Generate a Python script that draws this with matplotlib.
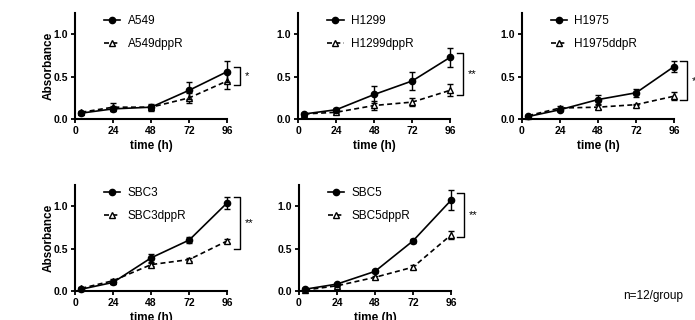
import matplotlib.pyplot as plt

plt.rcParams['font.family'] = ['Liberation Sans', 'DejaVu Sans']

# time points (h)
t = [4, 24, 48, 72, 96]

names = ['A549', 'H1299', 'H1975', 'SBC3', 'SBC5']
labels_r = ['A549dppR', 'H1299dppR', 'H1975ddpR', 'SBC3dppR', 'SBC5dppR']

a549 = [0.07, 0.12, 0.14, 0.34, 0.56]
a549_e = [0.01, 0.03, 0.03, 0.10, 0.12]
a549r = [0.08, 0.14, 0.14, 0.25, 0.45]
a549r_e = [0.01, 0.05, 0.04, 0.06, 0.09]

h1299 = [0.06, 0.11, 0.29, 0.45, 0.73]
h1299_e = [0.01, 0.02, 0.10, 0.11, 0.11]
h1299r = [0.06, 0.08, 0.16, 0.20, 0.34]
h1299r_e = [0.01, 0.01, 0.05, 0.05, 0.07]

h1975 = [0.03, 0.11, 0.23, 0.31, 0.62]
h1975_e = [0.01, 0.02, 0.05, 0.05, 0.06]
h1975r = [0.04, 0.13, 0.14, 0.17, 0.27]
h1975r_e = [0.01, 0.02, 0.02, 0.01, 0.05]

sbc3 = [0.02, 0.10, 0.39, 0.60, 1.04]
sbc3_e = [0.01, 0.02, 0.05, 0.04, 0.07]
sbc3r = [0.03, 0.12, 0.31, 0.37, 0.59]
sbc3r_e = [0.01, 0.02, 0.02, 0.02, 0.02]

sbc5 = [0.02, 0.08, 0.23, 0.59, 1.07]
sbc5_e = [0.01, 0.01, 0.02, 0.02, 0.12]
sbc5r = [0.01, 0.06, 0.16, 0.28, 0.66]
sbc5r_e = [0.01, 0.01, 0.02, 0.02, 0.05]

ctrl = [(a549, a549_e), (h1299, h1299_e), (h1975, h1975_e), (sbc3, sbc3_e), (sbc5, sbc5_e)]
resi = [(a549r, a549r_e), (h1299r, h1299r_e), (h1975r, h1975r_e), (sbc3r, sbc3r_e), (sbc5r, sbc5r_e)]

# significance brackets (bottom, top, stars)
brackets = [(0.40, 0.62, '*'), (0.28, 0.78, '**'), (0.22, 0.68, '**'), (0.50, 1.11, '**'), (0.64, 1.16, '**')]

fig = plt.figure(figsize=(6.95, 3.2), dpi=100)
lefts = [0.108, 0.429, 0.751, 0.108, 0.430]
bottoms = [0.628, 0.628, 0.628, 0.091, 0.091]

for i in range(5):
    ax = fig.add_axes([lefts[i], bottoms[i], 0.219, 0.331])
    y, e = ctrl[i]
    yr, er = resi[i]
    c1 = ax.errorbar(t, y, yerr=e, color='black', marker='o', markersize=4.5, lw=1.2,
                     capsize=2.5, elinewidth=1.0, capthick=1.0, clip_on=False, zorder=3)
    c2 = ax.errorbar(t, yr, yerr=er, color='black', marker='^', markersize=5, mfc='white', lw=1.2,
                     ls=(0, (3, 2)), capsize=2.5, elinewidth=1.0, capthick=1.0, clip_on=False, zorder=2)
    lo, hi, st = brackets[i]
    ax.plot([100, 104, 104, 100], [hi, hi, lo, lo], color='black', lw=1.0, clip_on=False)
    ax.text(107, (lo + hi) / 2, st, fontsize=8, va='center', ha='left', clip_on=False)
    ax.set_xlim(0, 96)
    ax.set_ylim(0, 1.25)
    ax.set_xticks([0, 24, 48, 72, 96])
    ax.set_yticks([0, 0.5, 1.0])
    ax.set_yticklabels(['0.0', '0.5', '1.0'])
    for lab in ax.get_xticklabels() + ax.get_yticklabels():
        lab.set_fontweight('bold')
        lab.set_fontsize(7.5)
    ax.tick_params(width=1.3, length=3, pad=2)
    ax.spines['top'].set_visible(False)
    ax.spines['right'].set_visible(False)
    ax.spines['left'].set_linewidth(1.5)
    ax.spines['bottom'].set_linewidth(1.5)
    ax.set_xlabel('time (h)', fontsize=8.5, fontweight='bold', labelpad=3)
    if i in (0, 3):
        ax.set_ylabel('Absorbance', fontsize=8.5, fontweight='bold', labelpad=-1)
    ax.legend([c1[0], c2[0]], [names[i], labels_r[i]], loc='upper left',
              bbox_to_anchor=(0.12, 1.08), frameon=False, fontsize=8.5,
              labelspacing=0.95, handlelength=1.4, handletextpad=0.6)

fig.text(0.897, 0.066, 'n=12/group', fontsize=8.5)

plt.savefig('out.png', dpi=100)
